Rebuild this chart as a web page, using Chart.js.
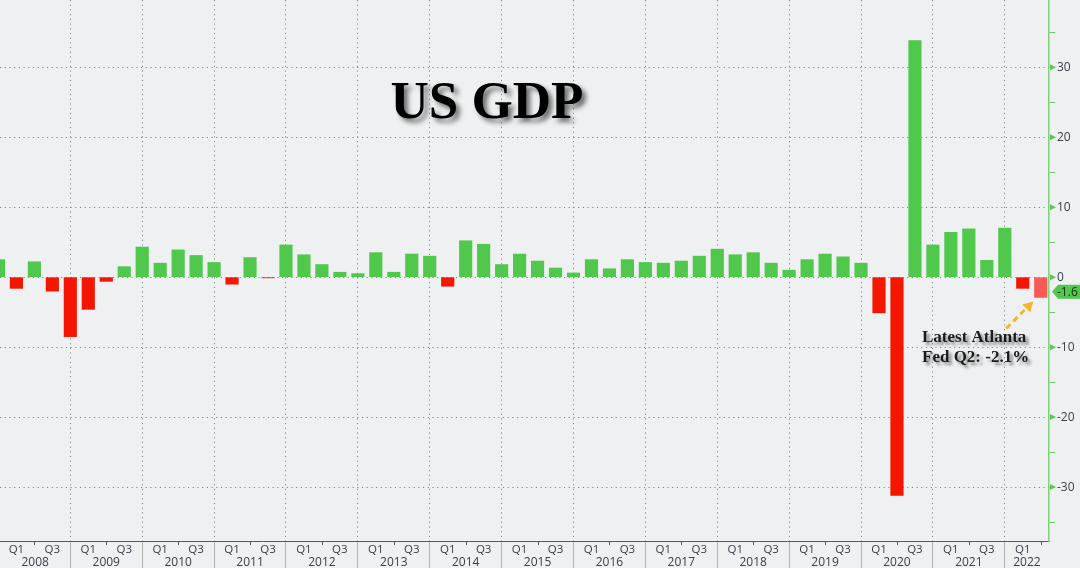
<!DOCTYPE html>
<html>
<head>
<meta charset="utf-8">
<title>US GDP</title>
<script src="https://cdn.jsdelivr.net/npm/chart.js@4.4.1/dist/chart.umd.min.js"></script>
<style>
  html, body { margin: 0; padding: 0; background: #eef0f1; }
  #wrap { width: 1080px; height: 568px; }
</style>
</head>
<body>
<div id="wrap"><canvas id="gdpChart"></canvas></div>
<script>
// quarterly GDP growth (annualised %), 2007 Q4 .. 2022 Q2
const years = [2008, 2009, 2010, 2011, 2012, 2013, 2014, 2015, 2016, 2017, 2018, 2019, 2020, 2021, 2022]
const quarterLabels = ['Q1', 'Q2', 'Q3', 'Q4']
const gdp = [
    2.5,
    -1.6, 2.2, -2.0, -8.5,
    -4.6, -0.6, 1.5, 4.3,
    2.0, 3.9, 3.1, 2.1,
    -1.0, 2.8, -0.1, 4.6,
    3.2, 1.8, 0.7, 0.5,
    3.5, 0.7, 3.3, 3.0,
    -1.3, 5.2, 4.7, 1.8,
    3.3, 2.3, 1.3, 0.6,
    2.5, 1.2, 2.5, 2.1,
    2.0, 2.3, 3.0, 4.0,
    3.2, 3.5, 2.0, 1.0,
    2.5, 3.3, 2.9, 2.0,
    -5.1, -31.2, 33.8, 4.6,
    6.4, 6.9, 2.4, 7.0,
    -1.6, -2.9
]
const yTicks = [-30, -20, -10, 0, 10, 20, 30]
const yMinorTicks = [-35, -25, -15, -5, 5, 15, 25, 35]
const latestLabel = '-1.6'
const latestLevel = -2.1
const noteLines = ['Latest Atlanta', 'Fed Q2: -2.1%']

const GREEN = '#50c84b'
const RED = '#f51600'
const GRID = '#858585'
const AXIS_TEXT = '#37414b'

// x value of a bar = quarters since 2007 Q4
const points = gdp.map((v, i) => ({ x: i, y: v }))
const barColors = gdp.map((v, i) => i === gdp.length - 1 ? '#f85b57' : (v >= 0 ? GREEN : RED))

const quarterAxis = {
    id: 'quarterAxis',
    afterDraw(chart) {
        const { ctx, scales: { x } } = chart
        const base = x.top
        ctx.save()
        ctx.fillStyle = AXIS_TEXT
        ctx.strokeStyle = '#555'
        ctx.lineWidth = 1
        ctx.textAlign = 'center'
        ctx.textBaseline = 'middle'
        years.forEach((yr, i) => {
            ctx.font = '11.5px "Open Sans"'
            quarterLabels.forEach((lab, k) => {
                const q = i * 4 + k + 1
                if (q > x.max || k === 3) return
                const px = x.getPixelForValue(q)
                if (k % 2 === 0) {
                    ctx.fillText(lab, px, base + 9)
                } else {
                    ctx.beginPath()
                    ctx.moveTo(Math.round(px) + 0.5, base)
                    ctx.lineTo(Math.round(px) + 0.5, base + 4)
                    ctx.stroke()
                }
            })
            const a = x.getPixelForValue(Math.max(x.min, i * 4))
            const b = x.getPixelForValue(Math.min(x.max, i * 4 + 4))
            ctx.font = '12px "Open Sans"'
            ctx.fillText(String(yr), (a + b) / 2, base + 21.5)
        })
        ctx.restore()
    }
}

const extras = {
    id: 'extras',
    afterDraw(chart) {
        const { ctx, scales: { x, y } } = chart
        ctx.save()
        // arrow heads on the major y ticks
        ctx.fillStyle = '#5cc656'
        yTicks.forEach(v => {
            const py = y.getPixelForValue(v)
            ctx.beginPath()
            ctx.moveTo(x.right + 1, py - 3)
            ctx.lineTo(x.right + 7, py)
            ctx.lineTo(x.right + 1, py + 3)
            ctx.closePath()
            ctx.fill()
        })

        // last value tag
        const cy = y.getPixelForValue(latestLevel)
        const tx = x.right + 3
        ctx.fillStyle = GREEN
        ctx.beginPath()
        ctx.moveTo(tx, cy)
        ctx.lineTo(tx + 6, cy - 7)
        ctx.lineTo(chart.width, cy - 7)
        ctx.lineTo(chart.width, cy + 7)
        ctx.lineTo(tx + 6, cy + 7)
        ctx.closePath()
        ctx.fill()
        ctx.fillStyle = '#1c2b1c'
        ctx.font = '12px "Open Sans"'
        ctx.textAlign = 'left'
        ctx.textBaseline = 'middle'
        ctx.fillText(latestLabel, tx + 5, cy + 1)

        // title
        ctx.shadowColor = 'rgba(0,0,0,0.55)'
        ctx.shadowOffsetX = 4
        ctx.shadowOffsetY = 4
        ctx.shadowBlur = 5
        ctx.fillStyle = '#000'
        ctx.font = 'bold 53px "Liberation Serif"'
        ctx.textAlign = 'center'
        ctx.textBaseline = 'alphabetic'
        ctx.fillText('US GDP', 487, 118)

        // note
        ctx.shadowOffsetX = 3
        ctx.shadowOffsetY = 3
        ctx.shadowBlur = 3
        ctx.shadowColor = 'rgba(0,0,0,0.45)'
        ctx.fillStyle = '#1a1a1a'
        ctx.font = 'bold 17px "Liberation Serif"'
        ctx.textAlign = 'left'
        ctx.fillText(noteLines[0], 922, 342)
        ctx.fillText(noteLines[1], 922, 362)

        // dashed arrow to the nowcast bar
        ctx.shadowColor = 'transparent'
        const hx = x.getPixelForValue(gdp.length - 1) - 7.5
        const hy = y.getPixelForValue(gdp[gdp.length - 1]) + 4
        const sx = hx - 27
        const sy = hy + 27
        ctx.strokeStyle = '#f2b530'
        ctx.fillStyle = '#f2b530'
        ctx.lineWidth = 3
        ctx.setLineDash([6, 4])
        ctx.beginPath()
        ctx.moveTo(sx, sy)
        ctx.lineTo(hx - 6, hy + 6)
        ctx.stroke()
        ctx.setLineDash([])
        ctx.beginPath()
        ctx.moveTo(hx, hy)
        ctx.lineTo(hx - 11, hy + 3)
        ctx.lineTo(hx - 3, hy + 11)
        ctx.closePath()
        ctx.fill()
        ctx.restore()
    }
}

const chart = new Chart(document.getElementById('gdpChart'), {
    type: 'bar',
    data: {
        datasets: [{
            data: points,
            backgroundColor: barColors,
            borderWidth: 0,
            barThickness: 12.5
        }]
    },
    options: {
        responsive: true,
        maintainAspectRatio: false,
        animation: false,
        layout: { padding: 0 },
        plugins: { legend: { display: false }, tooltip: { enabled: false } },
        scales: {
            x: {
                type: 'linear',
                offset: false,
                min: 0.087,
                max: 58.46,
                afterBuildTicks: scale => {
                    scale.ticks = years.slice(1).map((yr, i) => ({ value: (i + 1) * 4 }))
                },
                afterFit: scale => {
                    scale.height = 27
                    scale.paddingLeft = 0
                    scale.paddingRight = 0
                },
                ticks: { display: false },
                grid: {
                    offset: false,
                    color: GRID,
                    lineWidth: 1,
                    drawTicks: true,
                    tickLength: 27,
                    tickColor: '#b0b0b0'
                },
                border: { display: true, color: '#5a5a5a', width: 1, dash: [1.2, 3.5] }
            },
            y: {
                position: 'right',
                min: -37.7,
                max: 39.6,
                afterBuildTicks: scale => {
                    scale.ticks = [...yMinorTicks, ...yTicks].sort((a, b) => a - b).map(value => ({ value }))
                },
                afterFit: scale => {
                    scale.width = 31
                    scale.paddingTop = 0
                    scale.paddingBottom = 0
                },
                ticks: {
                    color: AXIS_TEXT,
                    padding: 2,
                    font: { family: 'Open Sans', size: 12 },
                    callback: value => yTicks.includes(value) ? String(value) : ''
                },
                grid: {
                    color: ctx => (ctx.tick && yTicks.includes(ctx.tick.value)) ? GRID : 'rgba(0,0,0,0)',
                    lineWidth: 1,
                    tickLength: 6,
                    tickColor: '#6cc964'
                },
                border: { display: true, color: '#7fd277', width: 1.5, dash: [1.2, 3.5] }
            }
        }
    },
    plugins: [quarterAxis, extras]
})
</script>
</body>
</html>
